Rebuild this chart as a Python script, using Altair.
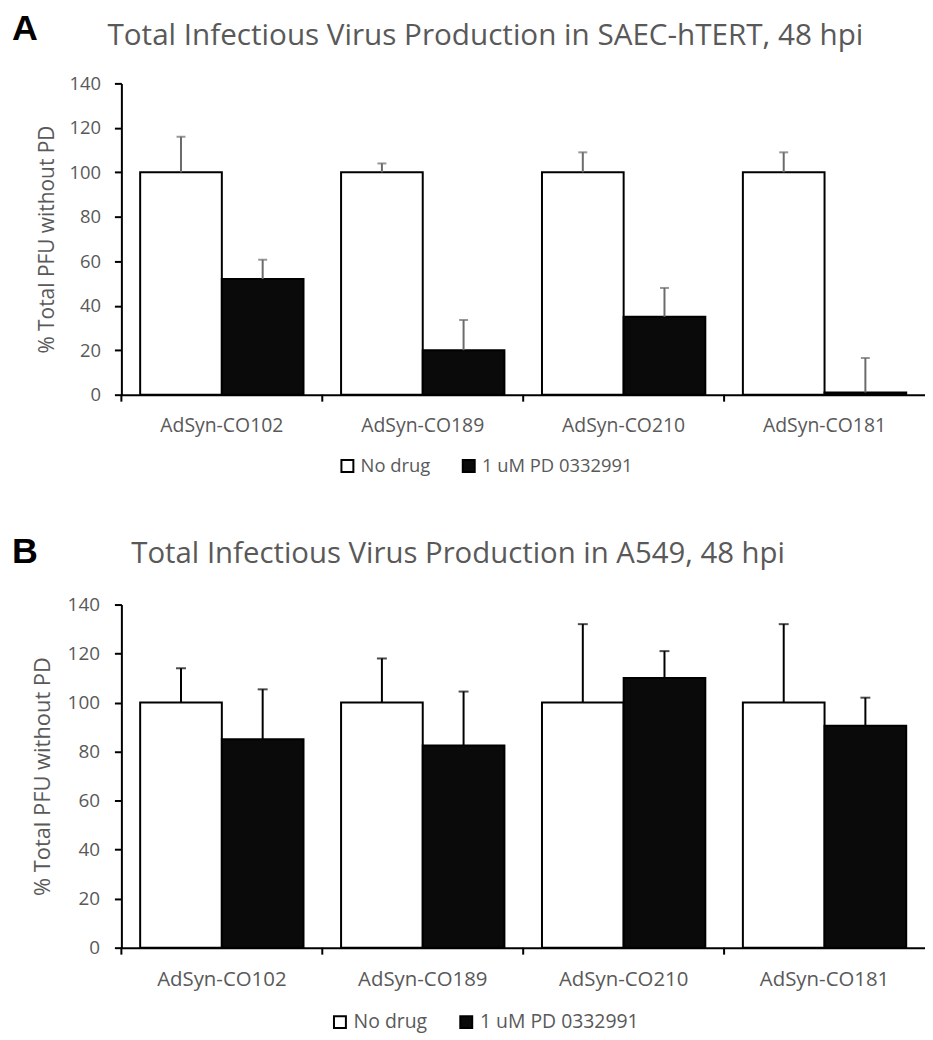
import altair as alt
import pandas as pd

categories = ["AdSyn-CO102", "AdSyn-CO189", "AdSyn-CO210", "AdSyn-CO181"]
treatments = ["No drug", "1 uM PD 0332991"]

# Panel A: SAEC-hTERT
a_nodrug = [100, 100, 100, 100]
a_nodrug_err = [16, 4, 9, 9]
a_pd = [52, 20, 35, 1]
a_pd_err = [8.7, 13.6, 13, 15.5]

# Panel B: A549
b_nodrug = [100, 100, 100, 100]
b_nodrug_err = [14, 18, 32, 32]
b_pd = [85, 82.5, 110, 90.5]
b_pd_err = [20.4, 22, 11, 11.5]

GRAY = "#595959"
FONT = "Open Sans"


def make_df(nd, nde, pdv, pde):
    rows = []
    for i, c in enumerate(categories):
        rows.append(dict(category=c, treatment=treatments[0], value=nd[i], top=nd[i] + nde[i]))
        rows.append(dict(category=c, treatment=treatments[1], value=pdv[i], top=pdv[i] + pde[i]))
    return pd.DataFrame(rows)


def panel(letter, title, df, width, height, err_color, cap_size, letter_x, letter_y,
          title_x, title_y, title_size, legend_x, legend_y, y_title_pad, y_label_pad,
          x_label_pad, cat_font, tick_font, ytitle_font, legend_font):
    x_axis = alt.Axis(title=None, ticks=False, domainColor="black", domainWidth=2,
                      labelFont=FONT, labelFontSize=cat_font, labelColor=GRAY,
                      labelPadding=x_label_pad, labelAngle=0)

    def X(bp=None):
        kw = dict(sort=categories, scale=alt.Scale(paddingInner=0, paddingOuter=0),
                  axis=x_axis, title=None)
        if bp is not None:
            kw["bandPosition"] = bp
        return alt.X("category:N", **kw)

    def Y(field):
        return alt.Y(field, scale=alt.Scale(domain=[0, 140], nice=False),
                     axis=alt.Axis(values=list(range(0, 141, 20)), grid=False,
                                   domainColor="black", domainWidth=2,
                                   tickColor="black", tickWidth=2, tickSize=7,
                                   labelFont=FONT, labelFontSize=tick_font, labelColor=GRAY,
                                   labelPadding=y_label_pad,
                                   titleFont=FONT, titleFontSize=ytitle_font, titleColor=GRAY,
                                   titleFontWeight="normal", titlePadding=y_title_pad),
                     title="% Total PFU without PD")

    xoff = alt.XOffset("treatment:N", sort=treatments,
                       scale=alt.Scale(paddingOuter=0.23, paddingInner=0))
    base = alt.Chart(df)
    bars = base.mark_bar(stroke="black", strokeWidth=2).encode(
        x=X(), xOffset=xoff, y=Y("value:Q"),
        fill=alt.Fill("treatment:N", sort=treatments,
                      scale=alt.Scale(domain=treatments, range=["white", "#0a0a0a"]),
                      legend=alt.Legend(orient="none", legendX=legend_x, legendY=legend_y,
                                        direction="horizontal", title=None,
                                        symbolType="square", symbolSize=144,
                                        symbolStrokeColor="black", symbolStrokeWidth=2,
                                        symbolOpacity=1,
                                        labelFont=FONT, labelFontSize=legend_font,
                                        labelColor=GRAY, labelOffset=4,
                                        columnPadding=28, padding=0)),
    )
    rules = base.mark_rule(color=err_color, strokeWidth=2).encode(
        x=X(), xOffset=xoff, y=Y("value:Q"), y2="top:Q")
    caps = base.mark_tick(color=err_color, thickness=2, size=cap_size).encode(
        x=X(), xOffset=xoff, y=Y("top:Q"))
    bounds = alt.Chart(pd.DataFrame({"category": categories})).mark_rule(
        color="black", strokeWidth=2).encode(
        x=X(0), y=alt.value(height), y2=alt.value(height + 7))
    letter_txt = alt.Chart(pd.DataFrame({"label": [letter]})).mark_text(
        font="Liberation Sans", fontSize=36, fontWeight="bold", color="black",
        align="left", baseline="top").encode(
        text="label:N", x=alt.value(letter_x), y=alt.value(letter_y))
    title_txt = alt.Chart(pd.DataFrame({"label": [title]})).mark_text(
        font=FONT, fontSize=title_size, color=GRAY,
        align="left", baseline="alphabetic").encode(
        text="label:N", x=alt.value(title_x), y=alt.value(title_y))

    return alt.layer(bars, rules, caps, bounds, letter_txt, title_txt).properties(
        width=width, height=height)


chart_a = panel("A", "Total Infectious Virus Production in SAEC-hTERT, 48 hpi",
                make_df(a_nodrug, a_nodrug_err, a_pd, a_pd_err),
                width=808, height=313, err_color="#6b6b6b", cap_size=9,
                letter_x=-110, letter_y=-72, title_x=-14, title_y=-39,
                title_size=29.8, legend_x=218, legend_y=375,
                y_title_pad=12, y_label_pad=14, x_label_pad=22,
                cat_font=19.5, tick_font=18.5, ytitle_font=21, legend_font=18.5)

chart_b = panel("B", "Total Infectious Virus Production in A549, 48 hpi",
                make_df(b_nodrug, b_nodrug_err, b_pd, b_pd_err),
                width=808, height=345, err_color="black", cap_size=10,
                letter_x=-110, letter_y=-70, title_x=10, title_y=-42,
                title_size=29.5, legend_x=210, legend_y=410,
                y_title_pad=13, y_label_pad=15, x_label_pad=22,
                cat_font=20.5, tick_font=19, ytitle_font=22, legend_font=19.5)

chart = alt.concat(chart_a, chart_b, columns=1, spacing=58).resolve_scale(
    fill="independent", x="independent", y="independent").resolve_legend(
    fill="independent").configure(
    padding={"left": 4, "top": 0, "right": 0, "bottom": 0}).configure_view(stroke=None)

chart.save("out.html", embed_options={"renderer": "svg", "actions": False})
